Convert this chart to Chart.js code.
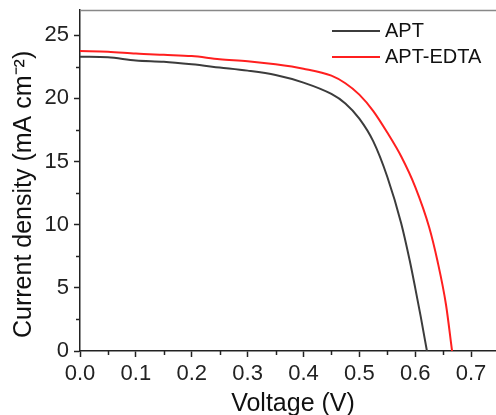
<!DOCTYPE html>
<html lang="en">
<head>
  <meta charset="UTF-8" />
  <title>J-V curves</title>
  <script src="https://cdn.jsdelivr.net/npm/chart.js"></script>
  <style>
    html, body { margin: 0; padding: 0; background: #fff; overflow: hidden; }
    canvas { display: block; }
  </style>
</head>
<body>
<canvas id="jvChart" width="510" height="415"></canvas>
<script>
  // values
  const aptVoltage = [0, 0.05, 0.1, 0.15, 0.2, 0.25, 0.3, 0.35, 0.4, 0.45, 0.475, 0.5, 0.525, 0.55, 0.575, 0.59, 0.6, 0.61, 0.621];
  const aptCurrent = [23.3, 23.25, 23.0, 22.9, 22.7, 22.45, 22.2, 21.85, 21.25, 20.35, 19.6, 18.4, 16.6, 13.8, 10.1, 7.2, 5.0, 2.7, 0];
  const edtaVoltage = [0, 0.05, 0.1, 0.15, 0.2, 0.25, 0.3, 0.35, 0.4, 0.45, 0.475, 0.5, 0.525, 0.55, 0.575, 0.6, 0.625, 0.64, 0.655, 0.666];
  const edtaCurrent = [23.75, 23.7, 23.55, 23.45, 23.35, 23.1, 22.95, 22.7, 22.35, 21.8, 21.2, 20.3, 19.0, 17.3, 15.4, 13.0, 9.8, 7.1, 3.7, 0];
  const seriesLabels = ['APT', 'APT-EDTA'];
  const seriesColors = ['#3c3c3c', '#ff1f1f'];

  const FONT = "'Liberation Sans', Arial, sans-serif";

  function toPoints(xs, ys) {
    return xs.map((x, i) => ({ x: x, y: ys[i] }));
  }

  // minor ticks, top frame line and the in-plot legend
  const decorPlugin = {
    id: 'decor',
    afterDraw(chart) {
      const ctx = chart.ctx;
      const area = chart.chartArea;
      const xs = chart.scales.x;
      const ys = chart.scales.y;
      ctx.save();
      ctx.strokeStyle = '#222';
      ctx.lineWidth = 1.5;
      for (let v = 0.05; v < 0.75; v += 0.1) {
        const px = Math.round(xs.getPixelForValue(v)) + 0.5;
        ctx.beginPath();
        ctx.moveTo(px, area.bottom);
        ctx.lineTo(px, area.bottom + 4);
        ctx.stroke();
      }
      for (let v = 2.5; v < 27; v += 5) {
        const py = Math.round(ys.getPixelForValue(v)) + 0.5;
        ctx.beginPath();
        ctx.moveTo(area.left, py);
        ctx.lineTo(area.left - 4, py);
        ctx.stroke();
      }
      // top frame
      ctx.strokeStyle = '#888';
      ctx.beginPath();
      ctx.moveTo(area.left, area.top + 0.5);
      ctx.lineTo(area.right, area.top + 0.5);
      ctx.stroke();

      // legend
      ctx.font = '20px ' + FONT;
      ctx.textAlign = 'left';
      ctx.textBaseline = 'middle';
      chart.data.datasets.forEach((ds, i) => {
        const y = area.top + 21 + i * 26;
        ctx.strokeStyle = ds.borderColor;
        ctx.lineWidth = 2;
        ctx.beginPath();
        ctx.moveTo(area.right - 167, y);
        ctx.lineTo(area.right - 119, y);
        ctx.stroke();
        ctx.fillStyle = '#111';
        ctx.fillText(ds.label, area.right - 114, y);
      });
      ctx.restore();
    }
  };

  const ctx = document.getElementById('jvChart').getContext('2d');
  new Chart(ctx, {
    type: 'line',
    data: {
      datasets: [
        {
          label: seriesLabels[0],
          data: toPoints(aptVoltage, aptCurrent),
          borderColor: seriesColors[0],
          borderWidth: 2,
          pointRadius: 0,
          cubicInterpolationMode: 'monotone',
          fill: false
        },
        {
          label: seriesLabels[1],
          data: toPoints(edtaVoltage, edtaCurrent),
          borderColor: seriesColors[1],
          borderWidth: 2,
          pointRadius: 0,
          cubicInterpolationMode: 'monotone',
          fill: false
        }
      ]
    },
    options: {
      responsive: false,
      animation: false,
      layout: { padding: { top: 10, right: 11, left: 0, bottom: 0 } },
      plugins: {
        legend: { display: false },
        tooltip: { enabled: false }
      },
      scales: {
        x: {
          type: 'linear',
          min: 0,
          max: 0.75,
          afterFit(scale) { scale.height = 64; scale.paddingRight = 0; scale.paddingLeft = 0; },
          border: { display: true, color: '#222', width: 1.5 },
          grid: { drawOnChartArea: false, drawTicks: true, tickLength: 6, color: '#222', tickWidth: 1.5 },
          ticks: {
            stepSize: 0.1,
            includeBounds: false,
            padding: 4,
            color: '#222',
            font: { family: FONT, size: 22 },
            callback: v => v.toFixed(1)
          },
          title: {
            display: true,
            text: ' Voltage (V)',
            color: '#111',
            font: { family: FONT, size: 25, lineHeight: 0.9 },
            padding: { top: 0, bottom: 0 }
          }
        },
        y: {
          type: 'linear',
          min: 0,
          max: 27,
          afterFit(scale) { scale.width = 80; scale.paddingTop = 0; scale.paddingBottom = 0; },
          border: { display: true, color: '#222', width: 1.5 },
          grid: { drawOnChartArea: false, drawTicks: true, tickLength: 6, color: '#222', tickWidth: 1.5 },
          ticks: {
            stepSize: 5,
            includeBounds: false,
            padding: 5,
            color: '#222',
            font: { family: FONT, size: 22 }
          },
          title: {
            display: true,
            text: 'Current density (mA cm\u207B\u00B2)    ',
            color: '#111',
            font: { family: FONT, size: 25 },
            padding: { top: 9, bottom: 0 }
          }
        }
      }
    },
    plugins: [decorPlugin]
  });
</script>
</body>
</html>
